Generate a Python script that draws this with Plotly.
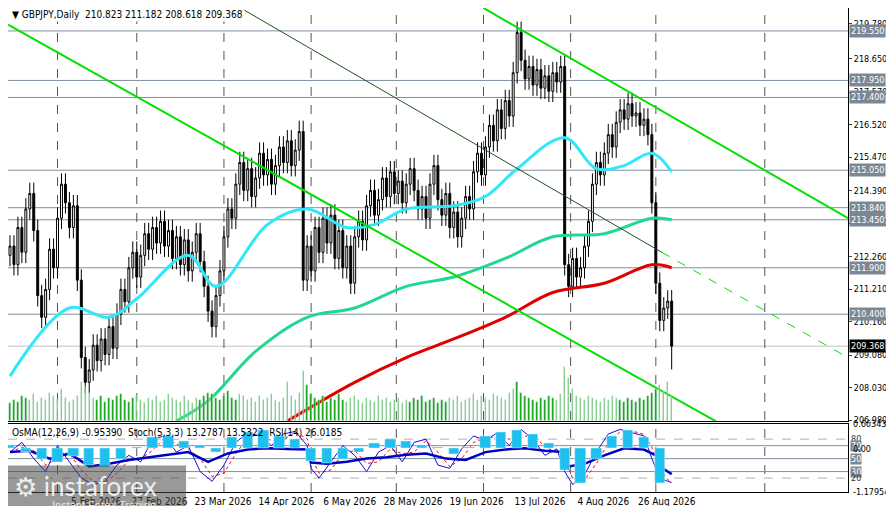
import plotly.graph_objects as go
import pandas as pd

closes = [212.6,212.0,213.2,212.4,213.8,214.3,213.1,211.0,
 210.3,211.2,212.5,211.9,213.5,214.6,214.0,213.2,
 213.9,211.5,209.0,208.2,208.6,209.4,208.9,209.6,
 209.1,210.0,209.3,210.4,211.2,210.8,211.9,212.4,
 211.6,212.3,213.0,212.5,213.2,212.7,213.4,212.6,
 213.1,212.2,212.9,212.0,212.8,211.8,212.4,213.0,
 212.1,211.3,210.5,210.0,211.0,211.8,212.9,213.8,
 213.5,214.6,215.3,214.4,215.1,214.2,214.8,215.6,
 214.9,215.4,214.6,215.2,215.8,215.3,216.0,215.2,
 215.7,216.3,211.5,212.6,211.8,213.2,212.4,213.5,
 212.7,213.6,212.2,213.1,211.9,212.6,211.4,212.9,
 213.4,212.8,213.9,214.4,213.6,214.1,214.8,214.2,
 215.0,214.3,214.7,214.0,214.6,215.1,214.4,213.8,
 214.2,213.5,214.6,215.2,214.1,213.6,214.3,213.2,
 213.7,212.9,213.5,214.2,213.8,215.0,215.6,214.9,
 215.8,216.5,216.0,217.0,216.4,217.3,216.8,218.2,
 219.5,218.6,218.0,218.4,217.8,218.3,217.7,218.1,
 217.6,218.2,217.9,218.4,212.0,211.3,212.2,211.6,
 211.9,212.6,213.4,214.6,215.3,214.9,215.6,216.2,
 215.8,216.6,217.0,216.7,217.2,216.8,216.9,216.5,
 216.7,216.2,214.0,211.4,210.2,210.6,210.823,209.368]
first_open = 212.3
last_high, last_low = 211.182, 208.618

volumes = [10,12,11,14,13,12,15,11,13,12,16,14,12,18,13,11,12,14,22,19,16,13,12,14,
 11,13,12,14,15,12,11,13,14,12,10,13,12,14,11,12,15,13,12,11,14,12,10,13,
 12,14,16,15,13,12,14,17,13,12,15,14,12,13,11,14,12,13,15,12,11,13,22,14,
 12,16,28,20,15,13,12,14,11,13,12,15,12,11,13,14,12,10,13,12,11,14,12,13,
 11,12,13,10,12,11,13,12,14,11,12,13,10,12,11,13,12,14,11,12,13,15,12,14,
 13,12,15,14,13,12,16,18,22,16,14,13,12,11,13,12,14,13,12,15,30,24,18,14,
 13,12,14,13,12,11,13,12,14,13,12,11,13,12,11,13,12,14,16,18,20,17,22,14]

ma_fast_idx = [0,15,25,32,45,52,65,75,85,92,100,112,120,128,140,148,155,162,167]
ma_fast = [208.4,210.6,210.3,210.9,212.3,211.3,213.3,213.8,213.2,213.3,213.8,213.9,214.2,215.1,216.1,215.1,215.2,215.6,215.0]
ma_mid_idx = [42,50,62,75,87,100,112,125,137,150,162,167]
ma_mid = [206.95,207.6,209.2,210.3,210.6,211.3,211.6,212.2,212.9,213.0,213.5,213.45]
ma_slow_idx = [70,87,100,112,125,137,150,162,167]
ma_slow = [206.95,208.2,209.0,209.6,210.3,211.1,211.4,212.0,211.9]

levels = [219.55,217.95,217.40,215.05,213.84,213.45,211.90,210.40]
last_price = 209.368
axis_ticks = [219.780,218.650,217.570,216.520,215.470,214.390,213.340,212.260,211.210,210.160,209.080,208.030,206.980]

tl1_x, tl1_y = [-0.5, 178.2], [219.75, 206.94]
tl2_x, tl2_y = [119.5, 211.5], [220.29, 213.5]
tl3_x, tl3_y = [58.2, 164.5], [220.29, 212.4]
tl3d_x, tl3d_y = [164.5, 211.5], [212.4, 209.0]

osma_idx = list(range(0,168,4))
osma = [0.1,-0.1,-0.3,-0.38,-0.2,-0.45,-0.5,-0.3,0.05,0.3,0.35,0.2,0.1,-0.1,0.3,0.45,0.5,0.35,0.25,-0.35,-0.4,
 -0.3,-0.1,0.15,0.25,0.2,0.1,0.05,-0.15,0.05,0.35,0.45,0.5,0.4,0.15,-0.6,-0.95,-0.3,0.35,0.5,0.3,-0.95]
rsi_idx = [0,5,10,15,20,25,30,35,40,45,50,55,60,65,70,75,76,80,85,90,95,100,105,110,115,120,125,130,135,140,141,145,150,155,160,163,165,167]
rsi = [60,62,50,58,38,42,48,52,55,60,45,58,64,66,65,64,44,42,45,50,52,56,58,50,48,60,64,66,62,60,38,42,55,66,64,55,34,26]
stoch_idx = [0,3,6,9,12,15,18,21,24,27,30,33,36,39,42,45,48,51,54,57,60,63,66,69,72,75,76,78,81,84,87,90,93,96,99,102,105,108,111,114,117,120,123,126,129,132,135,138,140,142,145,148,151,154,157,160,162,164,166,167]
stoch = [60,75,50,30,70,45,20,10,15,40,55,45,80,85,60,70,30,15,40,75,90,85,70,88,92,70,35,20,45,70,55,30,60,70,45,75,80,40,35,65,85,78,90,70,95,80,55,65,30,10,25,60,88,95,90,85,50,20,15,13]

date_pos = [5.75,21.75,37.75,53.75,69.75,85.75,101.75,117.75,133.75,149.75,165.75]
date_text = ["14 Jan 2026","5 Feb 2026","27 Feb 2026","23 Mar 2026","14 Apr 2026","6 May 2026",
             "28 May 2026","19 Jun 2026","13 Jul 2026","4 Aug 2026","26 Aug 2026"]
grid_pos = [12,32,54,76,97.5,119.5,141.5,163,190.5]

n = len(closes)
idx = list(range(n))
opens = [first_open] + closes[:-1]
highs = [max(o, c) + 0.35 for o, c in zip(opens, closes)]
lows = [min(o, c) - 0.35 for o, c in zip(opens, closes)]
highs[-1], lows[-1] = last_high, last_low
signal = pd.Series(stoch).rolling(2, min_periods=1).mean().tolist()

FONT = "DejaVu Sans Condensed"
LF = dict(size=9, family=FONT)
fig = go.Figure()
fig.add_trace(go.Bar(x=idx, y=volumes, marker_color="#00a000", width=0.35, xaxis="x", yaxis="y2", showlegend=False))
fig.add_trace(go.Candlestick(x=idx, open=opens, high=highs, low=lows, close=closes,
    increasing=dict(line=dict(color="black", width=1), fillcolor="white"),
    decreasing=dict(line=dict(color="black", width=1), fillcolor="black"),
    whiskerwidth=0, xaxis="x", yaxis="y", showlegend=False))
for xs, ys, col, w in [(ma_fast_idx, ma_fast, "#30e8f8", 3), (ma_mid_idx, ma_mid, "#20d890", 3), (ma_slow_idx, ma_slow, "#e00000", 3)]:
    fig.add_trace(go.Scatter(x=xs, y=ys, mode="lines", line=dict(color=col, width=w, shape="spline"), xaxis="x", yaxis="y", showlegend=False))
fig.add_trace(go.Scatter(x=tl1_x, y=tl1_y, mode="lines", line=dict(color="#00e000", width=2), showlegend=False))
fig.add_trace(go.Scatter(x=tl2_x, y=tl2_y, mode="lines", line=dict(color="#00e000", width=2), showlegend=False))
fig.add_trace(go.Scatter(x=tl3_x, y=tl3_y, mode="lines", line=dict(color="#205020", width=1), showlegend=False))
fig.add_trace(go.Scatter(x=tl3d_x, y=tl3d_y, mode="lines", line=dict(color="#00e000", width=1, dash="dash"), showlegend=False))

fig.add_trace(go.Bar(x=osma_idx, y=osma, marker_color="#1ec0f0", width=2.6, xaxis="x2", yaxis="y4", showlegend=False))
fig.add_trace(go.Scatter(x=stoch_idx, y=signal, mode="lines", line=dict(color="red", width=1, dash="dot"), xaxis="x2", yaxis="y3", showlegend=False))
fig.add_trace(go.Scatter(x=stoch_idx, y=stoch, mode="lines", line=dict(color="#1010e0", width=1), xaxis="x2", yaxis="y3", showlegend=False))
fig.add_trace(go.Scatter(x=rsi_idx, y=rsi, mode="lines", line=dict(color="#0000c0", width=2.5), xaxis="x2", yaxis="y3", showlegend=False))

shapes, ann = [], []
for lv in levels:
    shapes.append(dict(type="line", xref="x domain", yref="y", x0=0, x1=1, y0=lv, y1=lv, line=dict(color="#8090a0", width=1), layer="below"))
    ann.append(dict(xref="paper", yref="y", x=1, y=lv, xanchor="left", yanchor="middle", xshift=1, text=f"{lv:.3f}",
                    showarrow=False, bgcolor="#7b8794", font=dict(color="white", **LF), borderpad=1))
shapes.append(dict(type="line", xref="x domain", yref="y", x0=0, x1=1, y0=last_price, y1=last_price, line=dict(color="#c0c0c0", width=1), layer="below"))
ann.append(dict(xref="paper", yref="y", x=1, y=last_price, xanchor="left", yanchor="middle", xshift=1, text=f"{last_price:.3f}",
                showarrow=False, bgcolor="black", font=dict(color="white", **LF), borderpad=1))
for g in grid_pos:
    shapes.append(dict(type="line", xref="x", yref="paper", x0=g, x1=g, y0=0, y1=1, line=dict(color="#555", width=1, dash="dash"), layer="below"))
for lv, dash in [(80, "dash"), (70, "solid"), (50, "solid"), (30, "solid"), (20, "dash")]:
    shapes.append(dict(type="line", xref="x2 domain", yref="y3", x0=0, x1=1, y0=lv, y1=lv,
                       line=dict(color="#b0b0b0" if dash == "dash" else "#8090a0", width=1, dash=dash), layer="below"))
for lv, boxed in [(80, False), (70, True), (50, True), (30, True), (20, False)]:
    ann.append(dict(xref="paper", yref="y3", x=1, y=lv, xanchor="left", yanchor="middle", xshift=2, text=str(lv), showarrow=False,
                    bgcolor="#7b8794" if boxed else "rgba(0,0,0,0)", font=dict(color="white" if boxed else "#333", **LF), borderpad=0))
for val, txt in [(0.66343, "0.66343"), (0.0, "0.00"), (-1.17954, "-1.17954")]:
    ann.append(dict(xref="paper", yref="y4", x=1, y=val, xanchor="left", yanchor="middle", xshift=3, text=txt, showarrow=False,
                    font=dict(color="black", **LF)))
ann.append(dict(xref="paper", yref="paper", x=0, y=1, xanchor="left", yanchor="top", xshift=2, yshift=1,
                text="▼ GBPJPY,Daily  210.823 211.182 208.618 209.368", showarrow=False, font=dict(size=10, family=FONT, color="black"),
                bgcolor="white"))
ann.append(dict(xref="paper", yref="paper", x=0, y=0.138, xanchor="left", yanchor="top", xshift=2,
                text="OsMA(12,26,9) -0.95390  Stoch(5,3,3) 13.2787 13.5322  RSI(14) 26.0185", showarrow=False,
                font=dict(size=10, family=FONT, color="black")))
# logo
shapes.append(dict(type="rect", xref="paper", yref="paper", x0=0, x1=0.212, y0=-0.05, y1=0.055, fillcolor="rgba(70,70,70,0.55)", line=dict(width=0), layer="above"))
ann.append(dict(xref="paper", yref="paper", x=0.005, y=0.05, xanchor="left", yanchor="top", text="⚙ instaforex", showarrow=False,
                font=dict(size=26, family="Lato", color="rgba(255,255,255,0.85)")))
ann.append(dict(xref="paper", yref="paper", x=0.05, y=-0.01, xanchor="left", yanchor="top", text="Instant Forex Trading", showarrow=False,
                font=dict(size=11, family="Liberation Sans", color="rgba(255,255,255,0.8)")))

xr = [-0.5, 211.5]
fig.update_layout(
    width=894, height=506, margin=dict(l=0, r=54, t=0, b=22),
    paper_bgcolor="white", plot_bgcolor="white", bargap=0, barmode="overlay",
    font=dict(family=FONT, size=10, color="black"),
    shapes=shapes, annotations=ann,
    xaxis=dict(domain=[0, 1], range=xr, anchor="y", showticklabels=False, showgrid=False, rangeslider=dict(visible=False),
               showline=True, linecolor="black", mirror=True, zeroline=False),
    xaxis2=dict(domain=[0, 1], range=xr, anchor="y3", matches="x", showgrid=False, tickvals=date_pos, ticktext=date_text,
                tickfont=dict(size=10, family=FONT), ticks="", showline=True, linecolor="black", mirror=True, zeroline=False),
    yaxis=dict(domain=[0.146, 1], range=[206.94, 220.29], side="right", tickvals=axis_ticks, ticktext=[f"{t:.3f}" for t in axis_ticks],
               ticks="outside", ticklen=3, showgrid=False, zeroline=False, showline=True, linecolor="black", mirror=True,
               tickfont=LF),
    yaxis2=dict(domain=[0.146, 1], range=[0, 230], overlaying="y", visible=False),
    yaxis3=dict(domain=[0, 0.14], range=[-1.5, 103], side="right", showticklabels=False, showgrid=False, zeroline=False,
                showline=True, linecolor="black", mirror=True),
    yaxis4=dict(domain=[0, 0.14], range=[-1.17954, 0.66343], overlaying="y3", visible=False),
)
fig.write_html("out.html")
